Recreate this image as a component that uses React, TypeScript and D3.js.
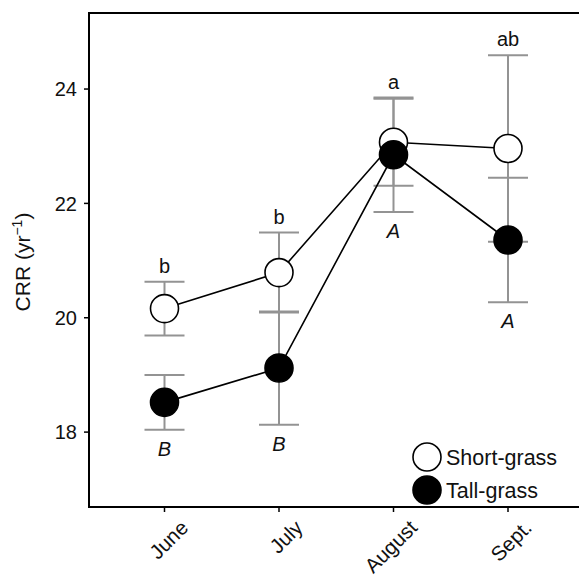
import * as React from 'react';
import * as d3 from 'd3';

const months = ['June', 'July', 'August', 'Sept.'];
const shortMean = [20.16, 20.79, 23.07, 22.96];
const shortErr = [0.47, 0.7, 0.76, 1.63];
const tallMean = [18.52, 19.12, 22.85, 21.36];
const tallErr = [0.48, 0.99, 1.0, 1.09];
const upperLetters = ['b', 'b', 'a', 'ab'];
const lowerLetters = ['B', 'B', 'A', 'A'];
const yTicks = [18, 20, 22, 24];

const W = 579;
const H = 577;
const margin = { top: 13, left: 89, bottom: 507, right: 600 };
const font = '"Liberation Sans", Arial, Helvetica, sans-serif';

export default function App() {
    const x = d3.scalePoint<string>().domain(months).range([164.5, 508]);
    const y = d3.scaleLinear().domain([16.69, 25.33]).range([margin.bottom, margin.top]);

    const line = d3.line<number>()
        .x((d, i) => x(months[i]) as number)
        .y(d => y(d));

    const series = [
        { name: 'Short-grass', mean: shortMean, err: shortErr, fill: '#ffffff' },
        { name: 'Tall-grass', mean: tallMean, err: tallErr, fill: '#000000' }
    ];

    const capW = 20;

    return (
        <svg width={W} height={H} style={{ position: 'absolute', left: 0, top: 0, background: '#fff' }} fontFamily={font}>
            {/* error bars */}
            {series.map(s => s.mean.map((m, i) => {
                const cx = x(months[i]) as number;
                const y1 = y(m + s.err[i]);
                const y2 = y(m - s.err[i]);
                return (
                    <g key={s.name + i} stroke="#939393" strokeWidth={2}>
                        <line x1={cx} x2={cx} y1={y1} y2={y2} />
                        <line x1={cx - capW} x2={cx + capW} y1={y1} y2={y1} />
                        <line x1={cx - capW} x2={cx + capW} y1={y2} y2={y2} />
                    </g>
                );
            }))}

            {/* lines and markers */}
            {series.map(s => (
                <g key={s.name}>
                    <path d={line(s.mean) as string} fill="none" stroke="#000" strokeWidth={1.6} />
                    {s.mean.map((m, i) => (
                        <circle key={i} cx={x(months[i]) as number} cy={y(m)} r={14}
                            fill={s.fill} stroke="#000" strokeWidth={1.6} />
                    ))}
                </g>
            ))}

            {/* significance letters */}
            {months.map((mo, i) => {
                const cx = x(mo) as number;
                const top = Math.max(shortMean[i] + shortErr[i], tallMean[i] + tallErr[i]);
                const bot = Math.min(shortMean[i] - shortErr[i], tallMean[i] - tallErr[i]);
                return (
                    <g key={mo} fontSize={20} textAnchor="middle" fill="#111">
                        <text x={cx} y={y(top) - 9}>{upperLetters[i]}</text>
                        <text x={cx} y={y(bot) + 26} fontStyle="italic">{lowerLetters[i]}</text>
                    </g>
                );
            })}

            {/* frame */}
            <rect x={margin.left} y={margin.top} width={margin.right - margin.left} height={margin.bottom - margin.top}
                fill="none" stroke="#000" strokeWidth={2} />

            {/* y axis */}
            {yTicks.map(t => (
                <g key={t}>
                    <line x1={margin.left - 5} x2={margin.left} y1={y(t)} y2={y(t)} stroke="#000" strokeWidth={1.5} />
                    <text x={77} y={y(t)} dy="0.36em" textAnchor="end" fontSize={20} fill="#111">{t}</text>
                </g>
            ))}
            <text transform={`translate(30,262) rotate(-90)`} textAnchor="middle" fontSize={21} fill="#111">
                CRR (yr<tspan dy={-8} fontSize={14}>−1</tspan><tspan dy={8}>)</tspan>
            </text>

            {/* x axis */}
            {months.map(mo => {
                const cx = x(mo) as number;
                return (
                    <g key={mo}>
                        <line x1={cx} x2={cx} y1={margin.bottom} y2={margin.bottom + 5} stroke="#000" strokeWidth={1.5} />
                        <text transform={`translate(${cx + 25},${margin.bottom + 22}) rotate(-45)`} textAnchor="end"
                            fontSize={20.5} fill="#111">{mo}</text>
                    </g>
                );
            })}

            {/* legend */}
            {series.map((s, i) => (
                <g key={s.name}>
                    <circle cx={427} cy={457 + i * 33} r={14} fill={s.fill} stroke="#000" strokeWidth={1.6} />
                    <text x={446} y={457 + i * 33} dy="0.36em" fontSize={21.5} fill="#111">{s.name}</text>
                </g>
            ))}
        </svg>
    );
}
